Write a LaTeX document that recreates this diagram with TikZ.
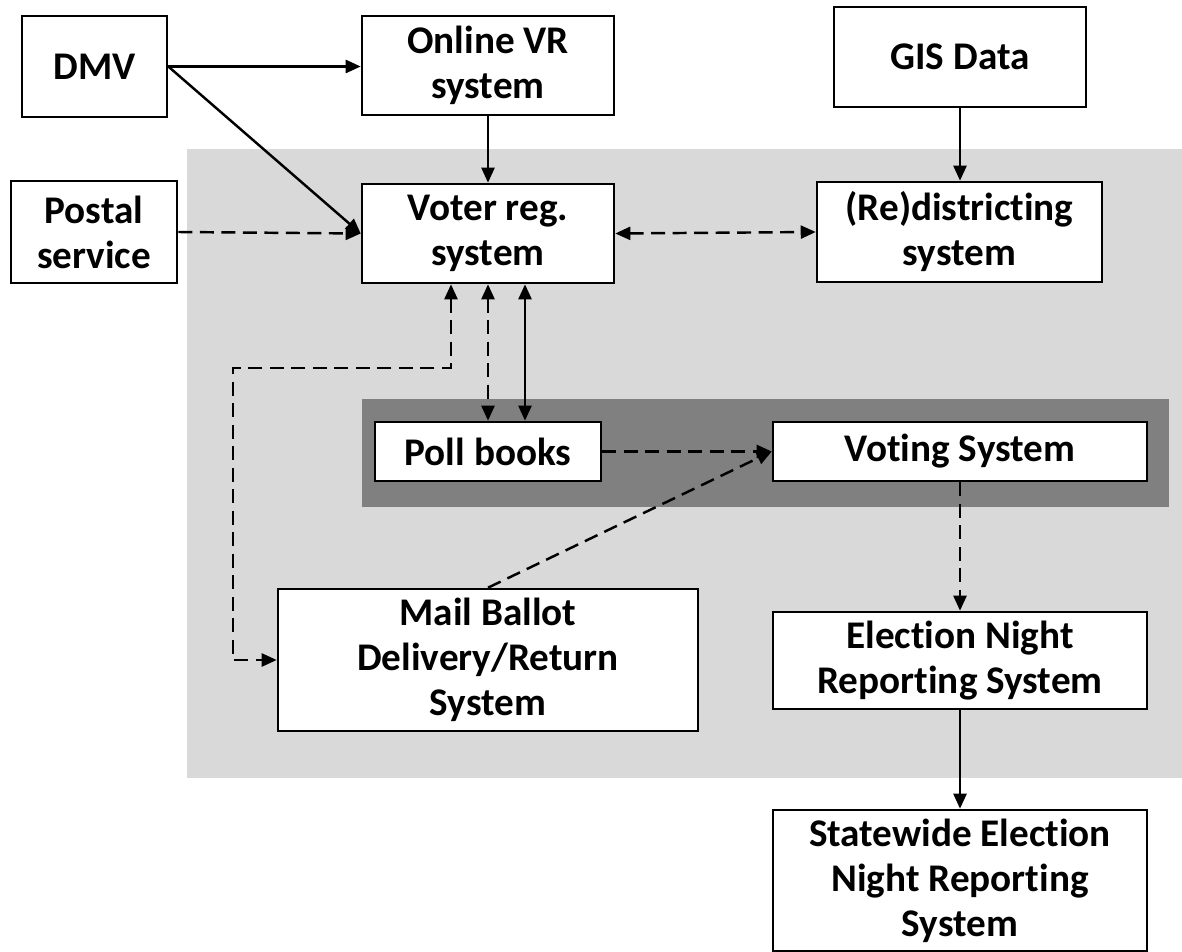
\documentclass[tikz,border=0pt]{standalone}
\usepackage{fontspec}
\setmainfont{Carlito}[RawFeature={-liga;-clig;-calt}]
\usetikzlibrary{arrows.meta}

\tikzset{
	box/.style={draw, fill=white, line width=1.5pt, inner sep=0pt, align=center,
		font=\fontsize{22.3}{25.6}\selectfont\bfseries},
	link/.style={line width=1.4pt, >={Triangle[length=0.3cm,width=0.26cm]}},
	dlink/.style={link, dash pattern=on 0.28cm off 0.15cm}
}

\begin{document}
\begin{tikzpicture}[x=0.02cm,y=-0.02cm]
	\useasboundingbox (0,0) rectangle (1182,952);
	%background areas
		\fill[gray!30] (187,149) rectangle (1182,778);
		\fill[gray] (362,399) rectangle (1169,507);
	%outside sources
		\node[box, minimum width=2.9cm, minimum height=2.02cm] (dmv) at (94.5,66.5) {DMV};
		\node[box, minimum width=5.04cm, minimum height=1.98cm] (onlinevr) at (488,65.5) {Online VR\\system};
		\node[box, minimum width=5.04cm, minimum height=2cm] (gis) at (960,57) {GIS Data};
		\node[box, minimum width=3.32cm, minimum height=2.04cm] (postal) at (94,232) {Postal\\service};
	%registration
		\node[box, minimum width=5.04cm, minimum height=1.98cm] (voterreg) at (488,233.5) {Voter reg.\\system};
		\node[box, minimum width=5.7cm, minimum height=2cm] (redist) at (959.5,232) {(Re)districting\\system};
	%polling place
		\node[box, minimum width=4.52cm, minimum height=1.18cm] (pollbooks) at (488,451.5) {Poll books};
		\node[box, minimum width=7.48cm, minimum height=1.18cm] (voting) at (960,451.5) {Voting System};
	%mail + reporting
		\node[box, minimum width=8.4cm, minimum height=2.84cm] (mail) at (488,660) {Mail Ballot\\Delivery/Return\\System};
		\node[box, minimum width=7.48cm, minimum height=1.94cm] (enr) at (960,660.5) {Election Night\\Reporting System};
		\node[box, minimum width=7.48cm, minimum height=2.82cm] (statewide) at (960,880.5) {Statewide Election\\Night Reporting\\System};
	%solid links
		\draw[link,->] (dmv.east) -- (dmv.east -| onlinevr.west);
		\draw[link,->] (dmv.east) -- (voterreg.west);
		\draw[link,->] (onlinevr) -- (voterreg);
		\draw[link,->] (gis.south) -- (gis.south |- redist.north);
		\draw[link,<->] ([xshift=0.74cm]voterreg.south) -- ([xshift=0.74cm]pollbooks.north);
		\draw[link,->] (enr) -- (statewide);
	%dashed links
		\coordinate (loopcorner) at (233,368);
		\draw[dlink,->] (postal.east) -- (voterreg.west);
		\draw[dlink,<->] (voterreg.east) -- (redist.west);
		\draw[dlink,<->] (voterreg.south) -- (pollbooks.north);
		\draw[dlink,<->] ([xshift=-0.74cm]voterreg.south) |- (loopcorner) |- (mail.west);
		\draw[dlink,->] (pollbooks.east) -- (voting.west);
		\draw[dlink,->] (mail.north) -- (voting.west);
		\draw[dlink,->] (voting.south) -- (enr.north);
\end{tikzpicture}
\end{document}
